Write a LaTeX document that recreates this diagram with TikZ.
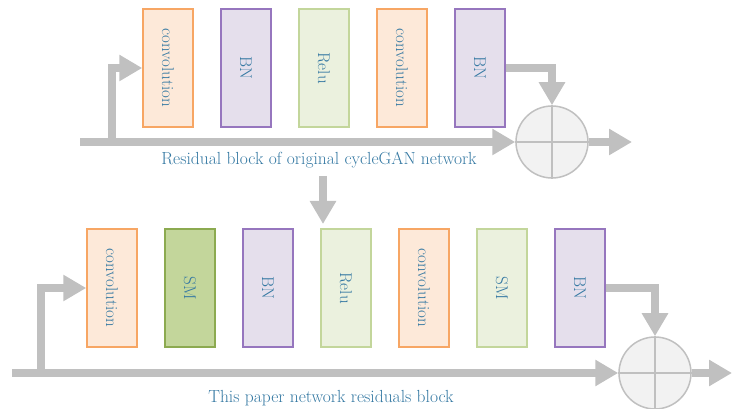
\documentclass[tikz,border=0pt]{standalone}
\usepackage{tikz}
\usetikzlibrary{arrows.meta}
\definecolor{convfill}{RGB}{253, 233, 217}
\definecolor{convline}{RGB}{247, 166, 100}
\definecolor{bnfill}{RGB}{229, 223, 236}
\definecolor{bnline}{RGB}{150, 118, 190}
\definecolor{relufill}{RGB}{235, 241, 222}
\definecolor{reluline}{RGB}{195, 214, 155}
\definecolor{smfill}{RGB}{195, 214, 155}
\definecolor{smline}{RGB}{140, 170, 80}
\definecolor{pipe}{RGB}{192, 192, 192}
\definecolor{sumfill}{RGB}{242, 242, 242}
\definecolor{captxt}{RGB}{52, 120, 162}

\begin{document}
\begin{tikzpicture}[
  every node/.style={inner sep=0pt},
  layer/.style={rectangle, minimum width=50pt, minimum height=118pt, line width=1.5pt, text=captxt, font=\fontsize{17}{20}\selectfont},
  conv/.style={layer, fill=convfill, draw=convline},
  bn/.style={layer, fill=bnfill, draw=bnline},
  relu/.style={layer, fill=relufill, draw=reluline},
  smdark/.style={layer, fill=smfill, draw=smline},
  smlight/.style={layer, fill=relufill, draw=reluline},
  adder/.style={circle, minimum size=72pt, fill=sumfill, draw=pipe, line width=1.5pt},
  flow/.style={line width=8pt, color=pipe, -{Triangle[length=23pt, width=25pt]}},
  caption/.style={text=captxt, font=\fontsize{17.5}{20}\selectfont}
]
\useasboundingbox (0pt, 0pt) rectangle (732pt, -409pt);
% original block
\node (conva) [conv] at (168pt, -68pt) {\rotatebox{-90}{convolution}};
\node (bna) [bn] at (246pt, -68pt) {\rotatebox{-90}{BN}};
\node (relua) [relu] at (324pt, -68pt) {\rotatebox{-90}{Relu}};
\node (convb) [conv] at (402pt, -68pt) {\rotatebox{-90}{convolution}};
\node (bnb) [bn] at (480pt, -68pt) {\rotatebox{-90}{BN}};
\node (suma) [adder] at (552pt, -142pt) {};
\coordinate (ina) at (80pt, -142pt);
\coordinate (brancha) at (112pt, -142pt);
\coordinate (outa) at (632pt, -142pt);
\node (capa) [caption] at (319pt, -160pt) {Residual block of original cycleGAN network};
\draw [flow] (ina) to (suma.west);
\draw [flow] (brancha) |- (conva.west);
\draw [flow] (bnb.east) -| (suma.north);
\draw [flow] (suma.east) to (outa);
\draw [line width=1.5pt, color=pipe] (suma.north) to (suma.south);
\draw [line width=1.5pt, color=pipe] (suma.west) to (suma.east);
% step down
\coordinate (downa) at (323pt, -176pt);
\coordinate (downb) at (323pt, -224pt);
\draw [flow] (downa) to (downb);
% this paper block
\node (convc) [conv] at (112pt, -288pt) {\rotatebox{-90}{convolution}};
\node (sma) [smdark] at (190pt, -288pt) {\rotatebox{-90}{SM}};
\node (bnc) [bn] at (268pt, -288pt) {\rotatebox{-90}{BN}};
\node (relub) [relu] at (346pt, -288pt) {\rotatebox{-90}{Relu}};
\node (convd) [conv] at (424pt, -288pt) {\rotatebox{-90}{convolution}};
\node (smb) [smlight] at (502pt, -288pt) {\rotatebox{-90}{SM}};
\node (bnd) [bn] at (580pt, -288pt) {\rotatebox{-90}{BN}};
\node (sumb) [adder] at (655pt, -373pt) {};
\coordinate (inb) at (12pt, -373pt);
\coordinate (branchb) at (41pt, -373pt);
\coordinate (outb) at (732pt, -373pt);
\node (capb) [caption] at (331pt, -398pt) {This paper network residuals block};
\draw [flow] (inb) to (sumb.west);
\draw [flow] (branchb) |- (convc.west);
\draw [flow] (bnd.east) -| (sumb.north);
\draw [flow] (sumb.east) to (outb);
\draw [line width=1.5pt, color=pipe] (sumb.north) to (sumb.south);
\draw [line width=1.5pt, color=pipe] (sumb.west) to (sumb.east);
\end{tikzpicture}
\end{document}
